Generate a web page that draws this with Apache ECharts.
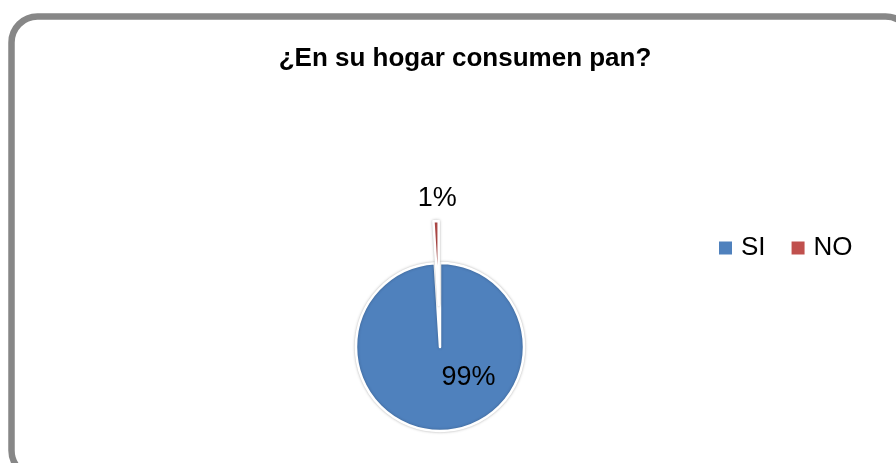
<!DOCTYPE html>
<html>
<head>
<meta charset="utf-8">
<script src="https://cdn.jsdelivr.net/npm/echarts@6/dist/echarts.min.js"></script>
<style>
  html, body { margin: 0; padding: 0; background: #fff; }
  #chart { width: 896px; height: 463px; }
</style>
</head>
<body>
<div id="chart"></div>
<script>
// Answers to the survey question and their shares (percent)
const categories = ['SI', 'NO'];
const shares = [99, 1];
const colors = ['#4F81BD', '#C0504D'];
const titleText = '¿En su hogar consumen pan?';

const chart = echarts.init(document.getElementById('chart'), null, { renderer: 'canvas' });

const data = categories.map((name, i) => ({
  name: name,
  value: shares[i],
  selected: name === 'NO',
  itemStyle: { color: colors[i] },
  label: name === 'NO'
    ? { position: 'inside' }
    : { position: 'inside', offset: [27, -14] },
  labelLine: { show: false }
}));

chart.setOption({
  animation: false,
  textStyle: { fontFamily: 'Liberation Sans' },
  title: {
    text: titleText,
    left: 460,
    textAlign: 'center',
    top: 41,
    textStyle: { fontSize: 26, fontWeight: 'bold', color: '#000', fontFamily: 'Liberation Sans' }
  },
  legend: {
    data: categories,
    left: 717,
    top: 235,
    padding: 0,
    orient: 'horizontal',
    itemWidth: 15,
    itemHeight: 15,
    itemGap: 24,
    icon: 'rect',
    textStyle: { fontSize: 26, color: '#000', padding: [0, 0, 0, 3] }
  },
  graphic: [{
    type: 'rect',
    shape: { x: 11.5, y: 16.5, width: 900, height: 460, r: 26 },
    style: { fill: 'none', stroke: '#878787', lineWidth: 6.5 },
    silent: true
  }],
  series: [{
    type: 'pie',
    center: [440, 347],
    radius: 84,
    startAngle: 90,
    clockwise: true,
    selectedMode: 'single',
    selectedOffset: 42,
    avoidLabelOverlap: false,
    itemStyle: {
      borderColor: '#fff',
      borderWidth: 2.5,
      shadowBlur: 3,
      shadowColor: 'rgba(0,0,0,0.25)'
    },
    label: {
      show: true,
      formatter: '{d}%',
      fontSize: 27,
      color: '#000'
    },
    // lift the small slice's label clear above its wedge
    labelLayout: function (params) {
      return params.dataIndex === 1 ? { dy: -61 } : {};
    },
    emphasis: { disabled: true },
    data: data
  }]
});
</script>
</body>
</html>
